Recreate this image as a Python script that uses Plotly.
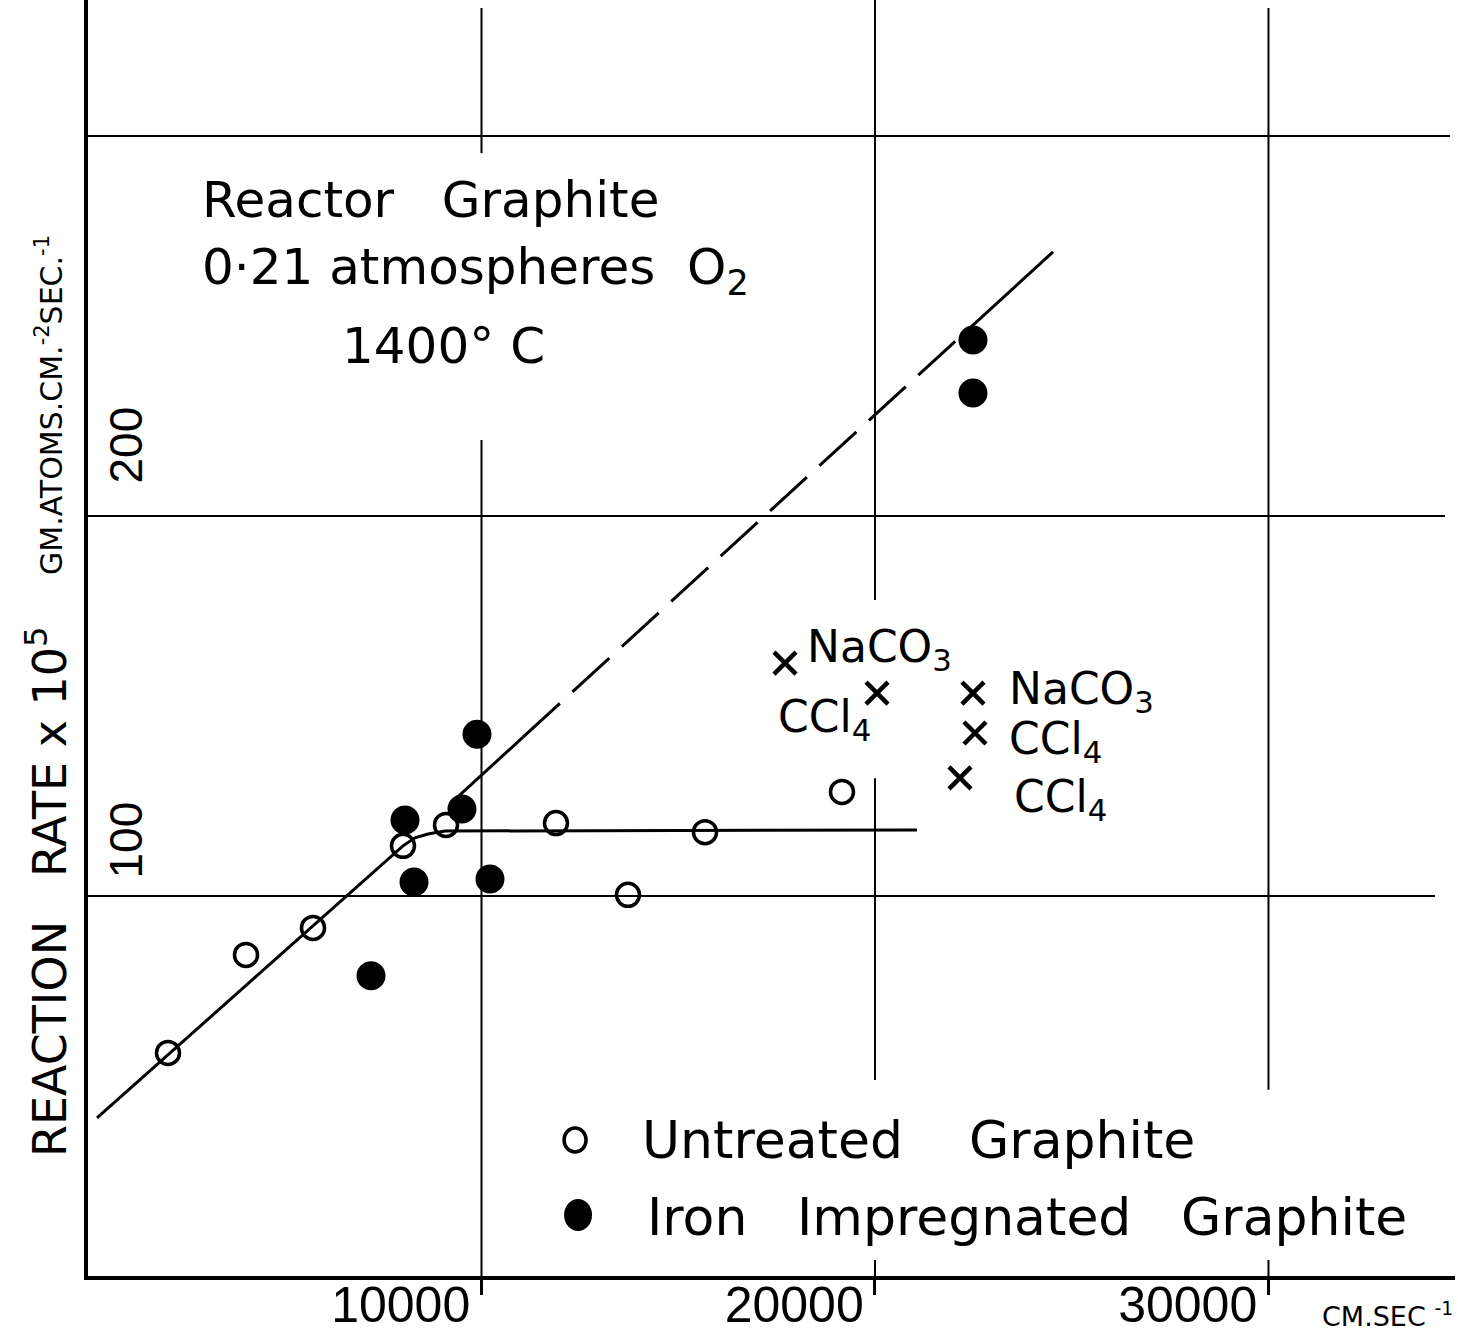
import plotly.graph_objects as go

# ---- data -------------------------------------------------------------
# gas velocity (cm/sec) and reaction rate x 1e5 (gm atoms cm^-2 sec^-1)
untreated_velocity = [2033, 4015, 5718, 8005, 9098, 11893, 13723, 15680, 19161]
untreated_rate = [58.7, 84.5, 91.6, 113.2, 118.7, 119.2, 100.3, 116.8, 127.4]

iron_velocity = [7192, 8056, 8285, 9504, 9886, 10216, 22490, 22490]
iron_rate = [79.0, 120.0, 103.7, 122.9, 142.6, 104.5, 246.3, 232.4]

additive_velocity = [17713, 20051, 22490, 22541, 22160]
additive_rate = [161.3, 153.4, 153.4, 142.9, 131.1]
additive_names = ["NaCO<sub>3</sub>", "CCl<sub>4</sub>", "NaCO<sub>3</sub>",
                  "CCl<sub>4</sub>", "CCl<sub>4</sub>"]

# hand-fitted curves
untreated_fit_velocity = [229, 8005, 8310, 8640, 9072, 21067]
untreated_fit_rate = [41.6, 113.2, 115.3, 116.3, 117.1, 117.4]

iron_fit_velocity = [9250, 11055, 22338, 24524]
iron_fit_rate = [124.7, 141.8, 248.8, 269.5]

x_ticks = [10000, 20000, 30000]
x_tick_text = ["10000", "20000", "30000"]
y_ticks = [100, 200, 300]
y_tick_text = ["100", "200"]

# ---- styling ----------------------------------------------------------
X_RANGE = [0, 34740]
Y_RANGE = [0, 335.8]
TEXT_FONT = "DejaVu Sans"
NUM_FONT = "Liberation Sans, Arial"
INK = "black"

fig = go.Figure()

# fitted curves: the iron line is solid, then dashed, then solid again
fig.add_trace(go.Scatter(x=untreated_fit_velocity, y=untreated_fit_rate,
                         mode="lines", line=dict(color=INK, width=3),
                         hoverinfo="skip", showlegend=False))
iron_segment_dash = ["solid", "50px,17px", "solid"]
for i, dash in enumerate(iron_segment_dash):
    fig.add_trace(go.Scatter(x=iron_fit_velocity[i:i + 2], y=iron_fit_rate[i:i + 2],
                             mode="lines", line=dict(color=INK, width=3, dash=dash),
                             hoverinfo="skip", showlegend=False))

fig.add_trace(go.Scatter(x=untreated_velocity, y=untreated_rate, mode="markers",
                         name="Untreated Graphite",
                         marker=dict(symbol="circle-open", size=23, color=INK,
                                     line=dict(width=3.5, color=INK)),
                         showlegend=False))
fig.add_trace(go.Scatter(x=iron_velocity, y=iron_rate, mode="markers",
                         name="Iron Impregnated Graphite",
                         marker=dict(symbol="circle", size=29, color=INK),
                         showlegend=False))
fig.add_trace(go.Scatter(x=additive_velocity, y=additive_rate, mode="markers",
                         name="additive",
                         marker=dict(symbol="x-thin", size=22, color=INK,
                                     line=dict(width=4.5, color=INK)),
                         showlegend=False))

# graph-paper rules drawn as broken segments
grid_h = [(100, 34231), (200, 34485), (300, 34612)]
grid_v = [(10000, 0, 220), (10000, 295.5, 333.7),
          (20000, 51.6, 131), (20000, 0, 4.2), (20000, 177.9, 335.8),
          (30000, 49, 333.7), (30000, 0, 4.2)]
shapes = []
for yv, xend in grid_h:
    shapes.append(dict(type="line", xref="x", yref="y", x0=0, x1=xend, y0=yv, y1=yv,
                       line=dict(color=INK, width=2)))
for xv, y0, y1 in grid_v:
    shapes.append(dict(type="line", xref="x", yref="y", x0=xv, x1=xv, y0=y0, y1=y1,
                       line=dict(color=INK, width=2)))

# legend symbols
shapes.append(dict(type="circle", xref="paper", yref="paper",
                   xsizemode="pixel", ysizemode="pixel",
                   xanchor=0.3563, yanchor=0.1066, x0=-11, x1=11, y0=-12, y1=12,
                   line=dict(color=INK, width=3.5)))
shapes.append(dict(type="circle", xref="paper", yref="paper",
                   xsizemode="pixel", ysizemode="pixel",
                   xanchor=0.3585, yanchor=0.0478, x0=-14, x1=14, y0=-16, y1=16,
                   fillcolor=INK, line=dict(color=INK, width=0)))

annotations = []

# y tick labels, rotated and sitting just above their rules
y_label_lift = [15, 30]
for val, txt, lift in zip(y_ticks, y_tick_text, y_label_lift):
    annotations.append(dict(x=0, y=val, xref="x", yref="y", text=txt, showarrow=False,
                            textangle=-90, xanchor="left", yanchor="bottom",
                            xshift=10, yshift=lift,
                            font=dict(family=NUM_FONT, size=46, color=INK)))

# labels for the additive-treated points
label_pos = [
    dict(xanchor="left", xshift=20, yshift=14),
    dict(xanchor="right", xshift=-4, yshift=-26),
    dict(xanchor="left", xshift=34, yshift=2),
    dict(xanchor="left", xshift=32, yshift=-8),
    dict(xanchor="left", xshift=52, yshift=-22),
]
for xv, yv, name, pos in zip(additive_velocity, additive_rate, additive_names, label_pos):
    annotations.append(dict(x=xv, y=yv, xref="x", yref="y", text=name, showarrow=False,
                            yanchor="middle", font=dict(family=TEXT_FONT, size=44, color=INK),
                            **pos))

NB = "\u00a0"
# heading block
annotations += [
    dict(x=0.0819, y=0.8433, xref="paper", yref="paper", xanchor="left", yanchor="middle",
         text=f"Reactor{NB*3}Graphite", showarrow=False,
         font=dict(family=TEXT_FONT, size=50, color=INK)),
    dict(x=0.0819, y=0.7884, xref="paper", yref="paper", xanchor="left", yanchor="middle",
         text=f"0\u00b721 atmospheres{NB*2}O<sub>2</sub>", showarrow=False,
         font=dict(family=TEXT_FONT, size=50, color=INK)),
    dict(x=0.2597, y=0.7288, xref="paper", yref="paper", xanchor="center", yanchor="middle",
         text=f"1400\u00b0{NB}C", showarrow=False,
         font=dict(family=TEXT_FONT, size=50, color=INK)),
]

# legend text
annotations += [
    dict(x=0.4038, y=0.1066, xref="paper", yref="paper", xanchor="left", yanchor="middle",
         text=f"Untreated{NB*4}Graphite", showarrow=False,
         font=dict(family=TEXT_FONT, size=52, color=INK)),
    dict(x=0.4074, y=0.0463, xref="paper", yref="paper", xanchor="left", yanchor="middle",
         text=f"Iron{NB*3}Impregnated{NB*3}Graphite", showarrow=False,
         font=dict(family=TEXT_FONT, size=52, color=INK)),
]

# axis titles
annotations += [
    dict(x=0, y=0.3009, xref="paper", yref="paper", xanchor="center", yanchor="middle",
         xshift=-41, textangle=-90, showarrow=False,
         text=f"REACTION{NB*3}RATE{NB}x{NB}10<sup>5</sup>",
         font=dict(family=TEXT_FONT, size=46, color=INK)),
    dict(x=0, y=0.6826, xref="paper", yref="paper", xanchor="center", yanchor="middle",
         xshift=-39, textangle=-90, showarrow=False,
         text="GM.ATOMS.CM.<sup>-2</sup>SEC.<sup>-1</sup>",
         font=dict(family=TEXT_FONT, size=30, color=INK)),
    dict(x=1, y=0, xref="paper", yref="paper", xanchor="right", yanchor="middle",
         yshift=-38, showarrow=False, text="CM.SEC <sup>-1</sup>",
         font=dict(family=TEXT_FONT, size=27, color=INK)),
]

fig.update_layout(
    width=1458, height=1338,
    margin=dict(l=88, r=3, t=0, b=62, autoexpand=False),
    paper_bgcolor="white", plot_bgcolor="white",
    shapes=shapes, annotations=annotations,
    showlegend=False,
    font=dict(family=TEXT_FONT, color=INK),
)
fig.update_xaxes(range=X_RANGE, showgrid=False, zeroline=False, automargin=False,
                 showline=True, linewidth=4, linecolor=INK,
                 ticks="outside", ticklen=15, tickwidth=2.5, tickcolor=INK,
                 tickvals=x_ticks, ticktext=x_tick_text,
                 ticklabelposition="outside left",
                 ticklabelstandoff=-18, ticklabelshift=-8,
                 tickfont=dict(family=NUM_FONT, size=50, color=INK))
fig.update_yaxes(range=Y_RANGE, showgrid=False, zeroline=False, automargin=False,
                 showline=True, linewidth=4, linecolor=INK,
                 showticklabels=False, ticks="")

fig.write_html("out.html")
